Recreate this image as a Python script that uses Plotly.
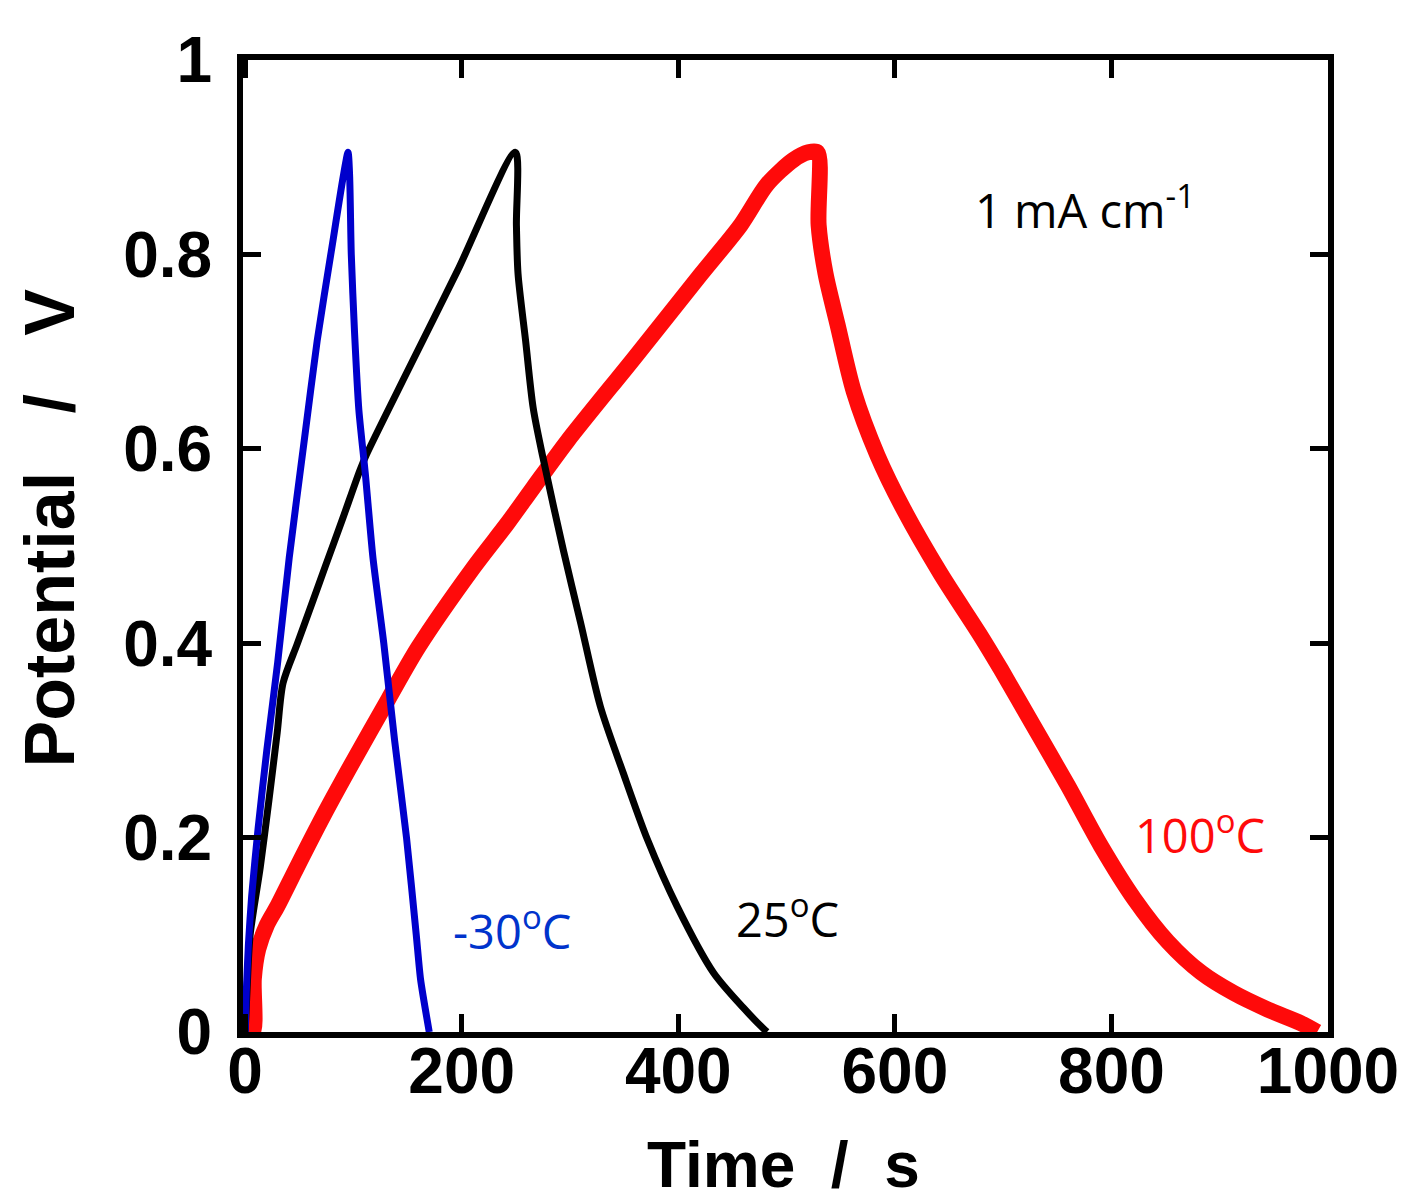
import plotly.graph_objects as go

# -30 C (blue)
t_m30 = [0, 1, 3, 6, 12, 20, 30, 40.7, 54.5, 66.5, 79.5, 95, 96.5, 98, 101, 105, 111, 118, 128, 138, 149, 158, 162, 170]
v_m30 = [0, 0.04, 0.09, 0.14, 0.21, 0.29, 0.38, 0.488, 0.608, 0.711, 0.803, 0.905, 0.88, 0.8, 0.72, 0.64, 0.574, 0.488, 0.4, 0.3, 0.2, 0.1, 0.054, 0]

# 25 C (black)
t_25 = [0, 2, 4.6, 14, 22, 29.6, 35, 48, 63, 74, 90, 106, 112, 150, 196, 249.5, 250.5, 252, 259, 266, 275, 294, 310, 328, 349, 371.5, 399, 432.5, 460, 479, 482]
v_25 = [0, 0.05, 0.10, 0.17, 0.239, 0.308, 0.359, 0.399, 0.445, 0.479, 0.528, 0.578, 0.594, 0.68, 0.783, 0.905, 0.83, 0.78, 0.711, 0.642, 0.591, 0.495, 0.42, 0.335, 0.267, 0.198, 0.129, 0.061, 0.025, 0.003, 0]

# 100 C (red)
t_100 = [0, 7, 8, 12, 20, 30, 48, 72, 97, 132, 160, 211, 242, 266, 297.6, 359, 420.5, 457.5, 482, 506, 520, 528.6, 529.6, 536, 547, 562, 584, 608, 642, 679, 698, 728, 760, 790, 821, 852, 883, 913, 944.5, 975, 990]
v_100 = [0, 0, 0.055, 0.085, 0.11, 0.13, 0.17, 0.222, 0.273, 0.342, 0.396, 0.478, 0.523, 0.56, 0.608, 0.693, 0.779, 0.83, 0.872, 0.897, 0.905, 0.905, 0.83, 0.78, 0.728, 0.659, 0.593, 0.538, 0.472, 0.408, 0.373, 0.315, 0.253, 0.192, 0.137, 0.093, 0.061, 0.040, 0.023, 0.009, 0.0]

x_ticks = [0, 200, 400, 600, 800, 1000]
y_ticks = [0, 0.2, 0.4, 0.6, 0.8, 1]
y_tick_text = ["0", "0.2", "0.4", "0.6", "0.8", "1"]

fig = go.Figure()
fig.add_trace(go.Scatter(x=t_100, y=v_100, mode="lines",
                         line=dict(color="#FF0A0A", width=16, shape="spline", smoothing=0.8), name="100 C"))
fig.add_trace(go.Scatter(x=t_25, y=v_25, mode="lines",
                         line=dict(color="#000000", width=7, shape="spline", smoothing=0.8), name="25 C"))
fig.add_trace(go.Scatter(x=t_m30, y=v_m30, mode="lines",
                         line=dict(color="#0000CC", width=7, shape="spline", smoothing=0.6), name="-30 C"))

tickfont = dict(family="Liberation Sans", size=64, color="black", weight="bold")
axis_common = dict(
    showline=True, linewidth=6, linecolor="black", mirror="allticks",
    ticks="inside", ticklen=18, tickwidth=5, tickcolor="black",
    showgrid=False, zeroline=False, tickfont=tickfont,
)
fig.update_xaxes(range=[-2, 1000], tickvals=x_ticks, ticktext=[str(v) for v in x_ticks],
                 ticklabelstandoff=-22, **axis_common)
fig.update_yaxes(range=[0, 1], tickvals=y_ticks, ticktext=y_tick_text,
                 ticklabelstandoff=12, **axis_common)

ann_font = "Open Sans"
fig.add_annotation(x=776, y=0.848, text="1 mA cm<sup>-1</sup>", showarrow=False,
                   font=dict(family=ann_font, size=47, color="black"))
fig.add_annotation(x=246, y=0.106, text="-30<sup>o</sup>C", showarrow=False,
                   font=dict(family=ann_font, size=47, color="#0033CC"))
fig.add_annotation(x=501, y=0.1185, text="25<sup>o</sup>C", showarrow=False,
                   font=dict(family=ann_font, size=47, color="black"))
fig.add_annotation(x=882, y=0.205, text="100<sup>o</sup>C", showarrow=False,
                   font=dict(family=ann_font, size=47, color="#FF0A0A"))

# axis titles
fig.add_annotation(xref="paper", yref="paper", x=0.498, y=-0.137, text="Time  /  s",
                   showarrow=False, yanchor="middle",
                   font=dict(family="Liberation Sans", size=64, color="black", weight="bold"))
fig.add_annotation(xref="paper", yref="paper", x=-0.178, y=0.519, text="Potential   /   V",
                   showarrow=False, textangle=-90, xanchor="center", yanchor="middle",
                   font=dict(family="Liberation Sans", size=70, color="black", weight="bold"))

fig.update_layout(
    width=1409, height=1204,
    margin=dict(l=235, r=89, t=52, b=180),
    plot_bgcolor="white", paper_bgcolor="white",
    showlegend=False,
)
fig.write_html("out.html")
